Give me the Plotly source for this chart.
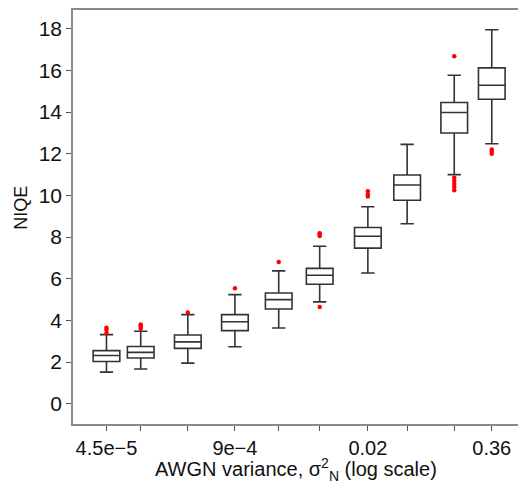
import plotly.graph_objects as go

variance = [4.5e-5, 1e-4, 3e-4, 9e-4, 2.5e-3, 6.5e-3, 0.02, 0.05, 0.15, 0.36]
lower_whisker = [1.52, 1.67, 1.95, 2.74, 3.64, 4.89, 6.28, 8.64, 11.0, 12.48]
q1 = [2.03, 2.20, 2.66, 3.51, 4.55, 5.74, 7.47, 9.77, 13.0, 14.62]
median = [2.32, 2.47, 2.97, 3.94, 5.00, 6.17, 8.04, 10.5, 13.98, 15.29]
q3 = [2.55, 2.75, 3.30, 4.28, 5.32, 6.50, 8.46, 10.98, 14.46, 16.12]
upper_whisker = [3.32, 3.48, 4.28, 5.24, 6.38, 7.56, 9.46, 12.45, 15.77, 17.95]
outliers = [
    [3.4, 3.55, 3.65],
    [3.6, 3.7, 3.75, 3.8],
    [4.38],
    [5.55],
    [6.8],
    [8.05, 8.12, 8.18, 4.65],
    [9.95, 10.05, 10.2],
    [],
    [16.68, 10.25, 10.4, 10.55, 10.7, 10.85],
    [12.0, 12.1, 12.2],
]
tick_vals = [4.5e-5, 9e-4, 0.02, 0.36]
tick_text = ["4.5e\u22125", "9e\u22124", "0.02", "0.36"]
x_title = "AWGN variance, \u03c3<sup>2</sup><sub>N</sub> (log scale)"
y_title = "NIQE"

fig = go.Figure()
fig.add_trace(go.Box(
    x=variance, q1=q1, median=median, q3=q3,
    lowerfence=lower_whisker, upperfence=upper_whisker,
    width=0.27, boxpoints=False,
    line=dict(color="#333333", width=1.6), fillcolor="white",
    showlegend=False, hoverinfo="skip",
))
ox, oy = [], []
for v, pts in zip(variance, outliers):
    for p in pts:
        ox.append(v)
        oy.append(p)
fig.add_trace(go.Scatter(
    x=ox, y=oy, mode="markers",
    marker=dict(color="red", size=4.5, line=dict(width=0)),
    showlegend=False, hoverinfo="skip",
))

minor_vals = [v for v in variance if v not in tick_vals]

FONT = "Liberation Sans, Arial, Helvetica, sans-serif"
fig.update_layout(
    width=518, height=482,
    margin=dict(l=73, r=0, t=10, b=58, autoexpand=False),
    plot_bgcolor="white", paper_bgcolor="white",
    font=dict(family=FONT, size=21, color="#111111"),
    xaxis=dict(
        type="log", range=[-4.686, -0.178],
        tickmode="array", tickvals=tick_vals, ticktext=tick_text,
        tickfont=dict(size=20),
        ticks="outside", ticklen=5, tickcolor="#555", tickwidth=1,
        ticklabeloverflow="allow",
        minor=dict(tickmode="array", tickvals=minor_vals, ticks="outside",
                   ticklen=5, tickcolor="#555", tickwidth=1, showgrid=False),
        showline=True, linecolor="#8a8a8a", linewidth=1.5, mirror=True,
        showgrid=False, zeroline=False,
    ),
    yaxis=dict(
        range=[-0.97, 18.9],
        tickmode="array", tickvals=list(range(0, 19, 2)),
        ticks="outside", ticklen=5, tickcolor="#555", tickwidth=1,
        showline=True, linecolor="#8a8a8a", linewidth=1.5, mirror=True,
        showgrid=False, zeroline=False,
    ),
    annotations=[
        dict(text=x_title, xref="paper", yref="paper", x=0.5, y=-0.07,
             xanchor="center", yanchor="top", showarrow=False,
             font=dict(size=20)),
        dict(text=y_title, xref="paper", yref="paper", x=-0.117, y=0.522,
             xanchor="center", yanchor="middle", textangle=-90, showarrow=False,
             font=dict(size=18)),
    ],
)
fig.write_html(
    "out.html",
    config={"displayModeBar": False},
    post_script="document.body.style.margin='0';document.body.style.overflow='hidden';",
)
